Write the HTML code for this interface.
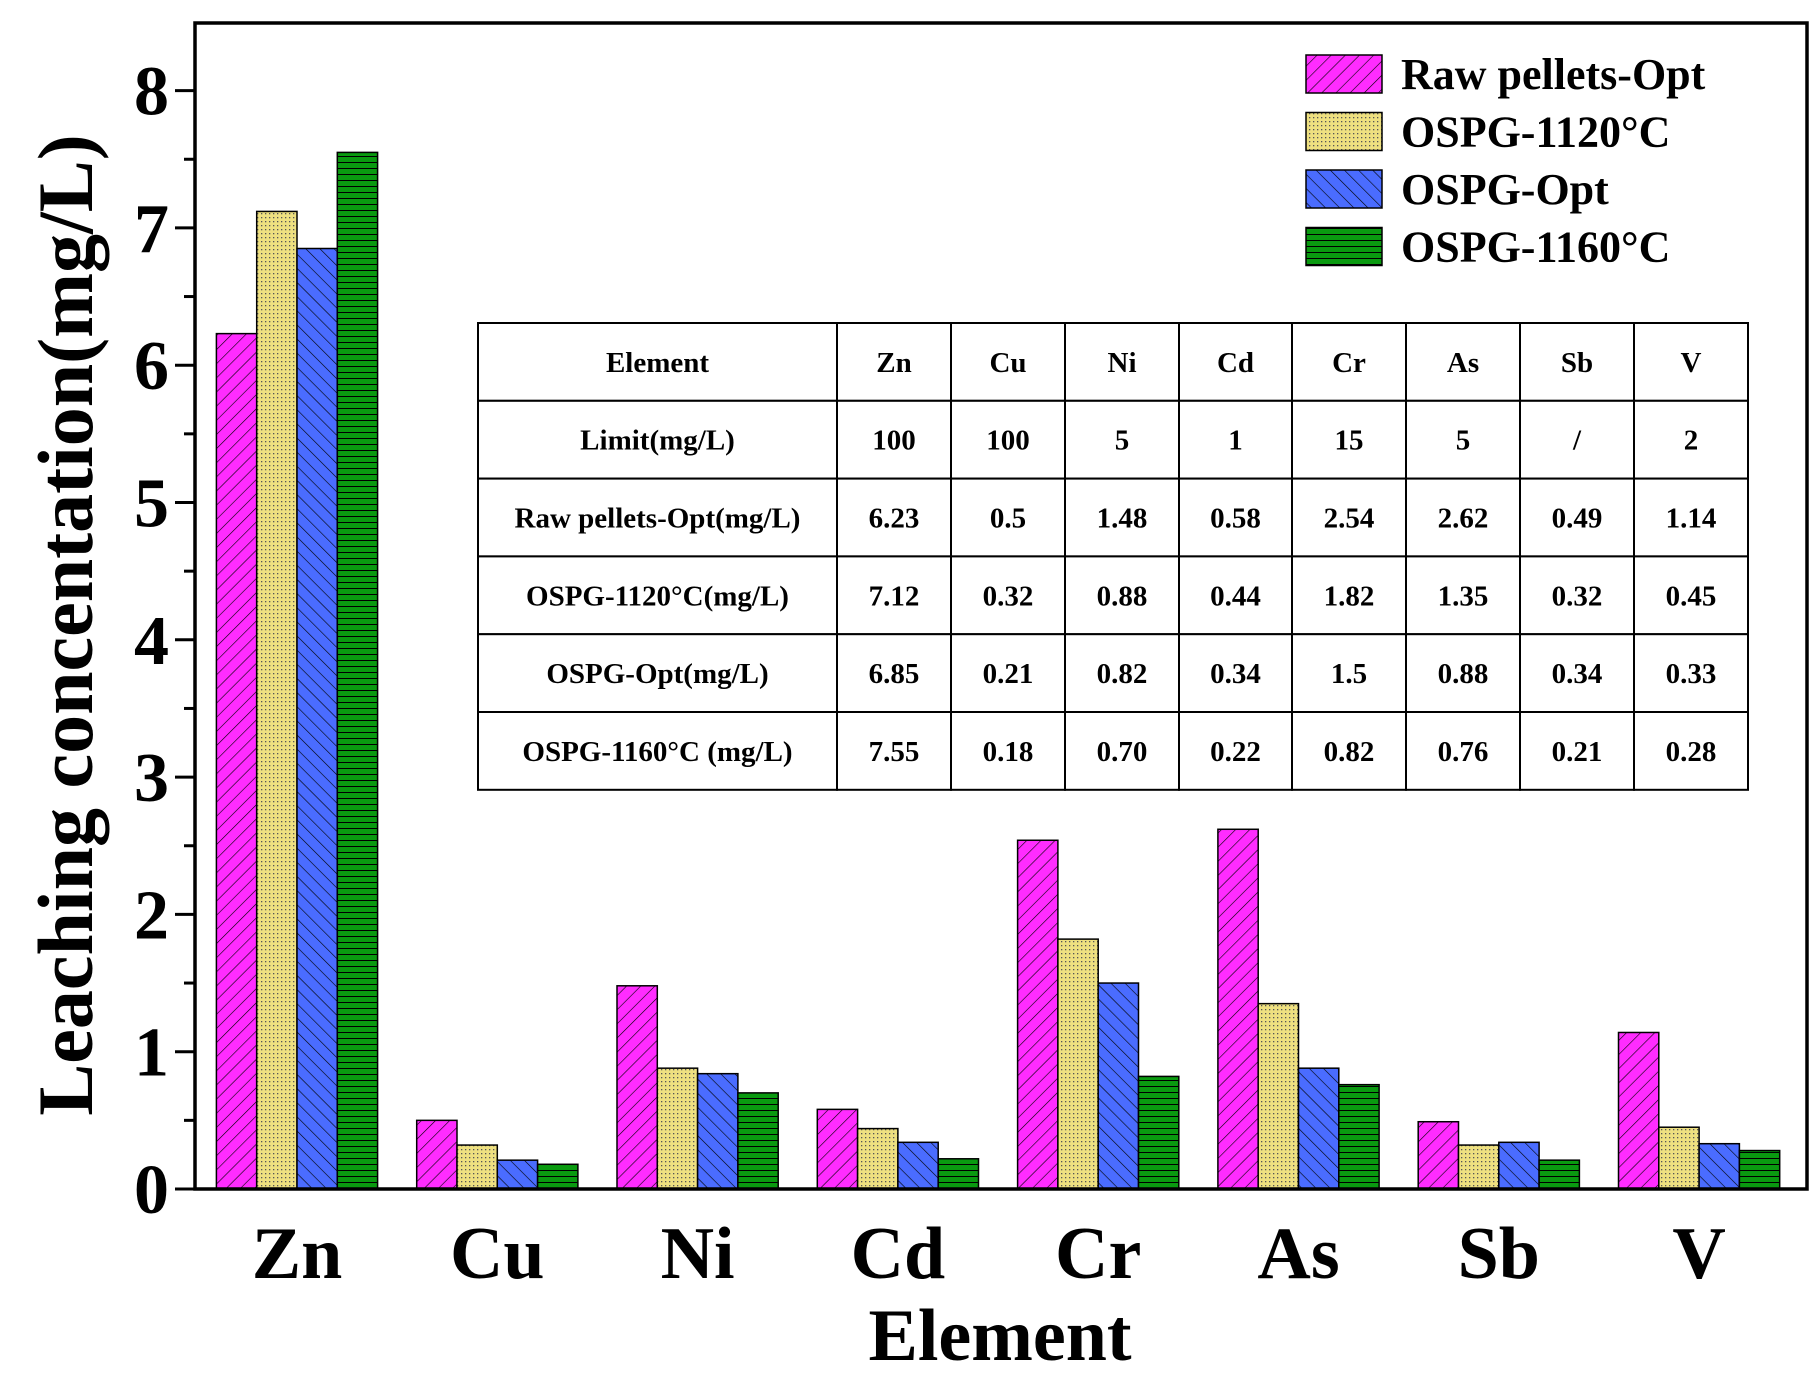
<!DOCTYPE html>
<html><head><meta charset="utf-8"><style>
body{margin:0;background:#fff}
svg{display:block}
text{font-family:"Liberation Serif",serif;font-weight:bold;fill:#000}
</style></head><body>
<svg id="chart" width="1819" height="1383" viewBox="0 0 1819 1383" xmlns="http://www.w3.org/2000/svg">
<defs>
<pattern id="p0" patternUnits="userSpaceOnUse" width="10" height="10" patternTransform="rotate(45)"><rect width="10" height="10" fill="#ff2cff"/><line x1="0" y1="0" x2="0" y2="10" stroke="#000" stroke-width="1.2"/></pattern>
<pattern id="p1" patternUnits="userSpaceOnUse" width="4" height="4"><rect width="4" height="4" fill="#eee080"/><rect x="1" y="1" width="1.3" height="1.3" fill="#555"/></pattern>
<pattern id="p2" patternUnits="userSpaceOnUse" width="10" height="10" patternTransform="rotate(-45)"><rect width="10" height="10" fill="#4a6cff"/><line x1="0" y1="0" x2="0" y2="10" stroke="#000" stroke-width="1.2"/></pattern>
<pattern id="p3" patternUnits="userSpaceOnUse" width="8" height="6"><rect width="8" height="6" fill="#0a9a10"/><line x1="0" y1="0.5" x2="8" y2="0.5" stroke="#000" stroke-width="1"/></pattern>
</defs>
<g id="bars"></g>
<g id="axes"></g>
<g id="legend"></g>
<g id="table"></g>
</svg>
<script>
const categories=["Zn","Cu","Ni","Cd","Cr","As","Sb","V"];
const seriesNames=["Raw pellets-Opt","OSPG-1120°C","OSPG-Opt","OSPG-1160°C"];
const rawOpt=[6.23,0.5,1.48,0.58,2.54,2.62,0.49,1.14];
const ospg1120=[7.12,0.32,0.88,0.44,1.82,1.35,0.32,0.45];
const ospgOpt=[6.85,0.21,0.84,0.34,1.5,0.88,0.34,0.33];
const ospg1160=[7.55,0.18,0.70,0.22,0.82,0.76,0.21,0.28];
const yTicks=[0,1,2,3,4,5,6,7,8];
const tableRows=[
["Element","Zn","Cu","Ni","Cd","Cr","As","Sb","V"],
["Limit(mg/L)","100","100","5","1","15","5","/","2"],
["Raw pellets-Opt(mg/L)","6.23","0.5","1.48","0.58","2.54","2.62","0.49","1.14"],
["OSPG-1120°C(mg/L)","7.12","0.32","0.88","0.44","1.82","1.35","0.32","0.45"],
["OSPG-Opt(mg/L)","6.85","0.21","0.82","0.34","1.5","0.88","0.34","0.33"],
["OSPG-1160°C (mg/L)","7.55","0.18","0.70","0.22","0.82","0.76","0.21","0.28"]];
const NS="http://www.w3.org/2000/svg";
const L=195,R=1807,T=23,B=1189;
const y=v=>B-v*137.3;
const x0=297,step=200.3,bw=40.3;
const xc=i=>x0+i*step;
function mk(t,a,p){const e=document.createElementNS(NS,t);for(const k in a)e.setAttribute(k,a[k]);p.appendChild(e);return e;}
const series=[rawOpt,ospg1120,ospgOpt,ospg1160];
const gb=document.getElementById('bars');
series.forEach((s,si)=>{s.forEach((v,i)=>{
 const r=mk('rect',{x:xc(i)+(si-2)*bw,y:y(v),width:bw,height:B-y(v),fill:`url(#p${si})`,stroke:'#000','stroke-width':1.5},gb);
 
 
});});
const ga=document.getElementById('axes');
const fr=mk('rect',{x:L,y:T,width:R-L,height:B-T,fill:'none',stroke:'#000','stroke-width':3.5},ga);

yTicks.forEach(t=>{
 mk('line',{x1:L-20,x2:L,y1:y(t),y2:y(t),stroke:'#000','stroke-width':3},ga);
 if(t<8)mk('line',{x1:L-11,x2:L,y1:y(t+0.5),y2:y(t+0.5),stroke:'#000','stroke-width':3},ga);
 const tx=mk('text',{x:L-26,y:y(t)+24,'text-anchor':'end','font-size':70},ga);tx.textContent=t;
 
});
categories.forEach((c,i)=>{
 const tx=mk('text',{x:xc(i),y:1278,'text-anchor':'middle','font-size':74},ga);tx.textContent=c;
 
});
const xt=mk('text',{x:1000,y:1360,'text-anchor':'middle','font-size':74},ga);xt.textContent='Element';

const yt=mk('text',{x:0,y:0,'text-anchor':'middle','font-size':78,transform:'translate(92,625) rotate(-90)'},ga);yt.textContent='Leaching concentation(mg/L)';

const gl=document.getElementById('legend');
seriesNames.forEach((n,i)=>{
 const cy=74+i*57.5;
 const r=mk('rect',{x:1306,y:cy-19,width:76,height:38,fill:`url(#p${i})`,stroke:'#000','stroke-width':1.5},gl);
 
 const tx=mk('text',{x:1401,y:cy+15,'font-size':44},gl);tx.textContent=n;
 
});
const gt=document.getElementById('table');
const cols=[478,837,951,1065,1179,1292,1406,1520,1634,1748];
const tT=323,rh=77.8;
tableRows.forEach((row,ri)=>{row.forEach((c,ci)=>{
 const r=mk('rect',{x:cols[ci],y:tT+ri*rh,width:cols[ci+1]-cols[ci],height:rh,fill:'#fff',stroke:'#000','stroke-width':2},gt);
 
 const tx=mk('text',{x:(cols[ci]+cols[ci+1])/2,y:tT+ri*rh+rh/2+10,'text-anchor':'middle','font-size':29},gt);tx.textContent=c;
 
});});
</script>
</body></html>
